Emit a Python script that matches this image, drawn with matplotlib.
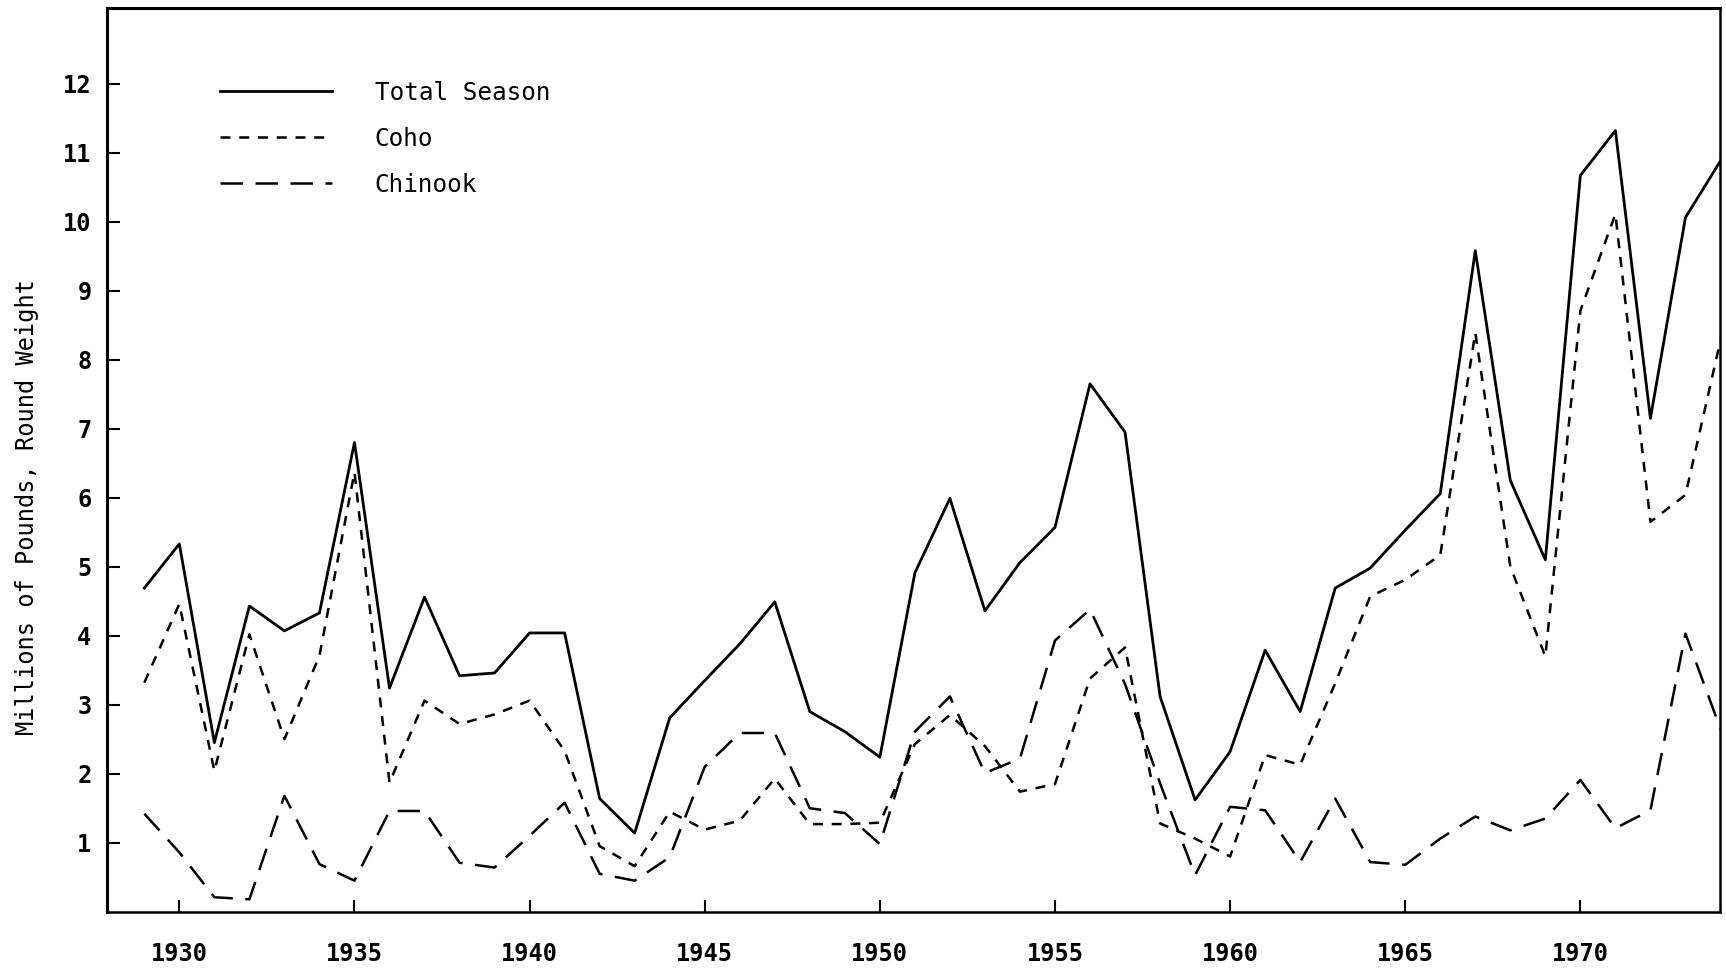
import matplotlib
matplotlib.use("Agg")
import matplotlib.pyplot as plt

years = list(range(1929, 1975))

total = [4.69, 5.33, 2.45, 4.43, 4.07, 4.33, 6.80, 3.24, 4.56, 3.42,
         3.46, 4.04, 4.04, 1.64, 1.14, 2.81, 3.35, 3.88, 4.49, 2.90,
         2.61, 2.24, 4.91, 5.99, 4.36, 5.06, 5.57, 7.65, 6.95, 3.12,
         1.62, 2.32, 3.79, 2.90, 4.69, 4.98, 5.53, 6.06, 9.58, 6.25,
         5.10, 10.67, 11.32, 7.15, 10.06, 10.88]

coho = [3.32, 4.46, 2.04, 4.02, 2.50, 3.71, 6.37, 1.87, 3.06, 2.72,
        2.86, 3.06, 2.33, 0.95, 0.66, 1.45, 1.19, 1.32, 1.93, 1.27,
        1.27, 1.29, 2.43, 2.85, 2.40, 1.74, 1.85, 3.38, 3.83, 1.28,
        1.06, 0.80, 2.27, 2.13, 3.31, 4.57, 4.81, 5.17, 8.39, 5.00,
        3.70, 8.71, 10.11, 5.65, 6.04, 8.28]

chinook = [1.42, 0.86, 0.21, 0.18, 1.68, 0.69, 0.45, 1.46, 1.46, 0.71,
           0.64, 1.10, 1.58, 0.55, 0.45, 0.79, 2.10, 2.59, 2.59, 1.50,
           1.43, 0.98, 2.61, 3.12, 2.01, 2.22, 3.93, 4.38, 3.30, 1.86,
           0.53, 1.52, 1.47, 0.72, 1.64, 0.72, 0.68, 1.06, 1.38, 1.18,
           1.35, 1.91, 1.21, 1.47, 4.03, 2.65]

series_labels = ["Total Season", "Coho", "Chinook"]
xtick_years = [1930, 1935, 1940, 1945, 1950, 1955, 1960, 1965, 1970]
ytick_vals = list(range(1, 13))
ylabel = "Millions of Pounds, Round Weight"

mono = ["DejaVu Sans Mono"]

fig = plt.figure(figsize=(17.26, 9.69), dpi=100)
ax = fig.add_axes([0.0619, 0.0591, 0.9349, 0.9329])

ax.plot(years, total, color="black", lw=2.0, ls="-", label=series_labels[0])
ax.plot(years, coho, color="black", lw=1.8, ls=(0, (4, 3.5)), label=series_labels[1])
ax.plot(years, chinook, color="black", lw=1.8, ls=(0, (9, 5)), label=series_labels[2])

ax.set_xlim(1927.93, 1974.0)
ax.set_ylim(0, 13.1)

ax.set_xticks(xtick_years)
ax.set_xticklabels([str(y) for y in xtick_years], family=mono, fontsize=17, fontweight="bold")
ax.set_yticks(ytick_vals)
ax.set_yticklabels([str(v) for v in ytick_vals], family=mono, fontsize=17, fontweight="bold")
ax.tick_params(axis="x", direction="in", length=9, width=1.5, pad=22)
ax.tick_params(axis="y", direction="in", length=9, width=1.5, pad=11)

for side in ["top", "left"]:
    ax.spines[side].set_linewidth(2.2)
for side in ["bottom", "right"]:
    ax.spines[side].set_linewidth(1.8)

ax.set_ylabel(ylabel, family=mono, fontsize=17)
ax.yaxis.set_label_coords(-0.042, 0.448)

leg = ax.legend(loc="upper left", bbox_to_anchor=(0.0703, 0.919), frameon=False,
                prop={"family": mono, "size": 17.5}, handlelength=4.6,
                handletextpad=1.75, labelspacing=0.9, borderpad=0, borderaxespad=0)

fig.savefig("out.png", dpi=100)
